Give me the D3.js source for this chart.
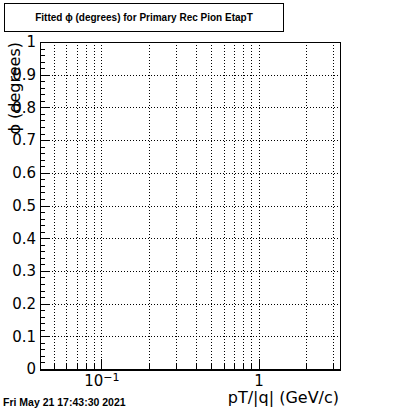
<!DOCTYPE html>
<html>
<head>
<meta charset="utf-8">
<script src="https://cdn.jsdelivr.net/npm/d3@7"></script>
<style>
  body { margin: 0; background: #fff; }
  svg { display: block; }
  line, rect { shape-rendering: crispEdges; }
</style>
</head>
<body>
<svg id="chart"></svg>
<script>
// axis ranges (empty histogram frame)
const xDomain = [0.0407, 3.3];
const yDomain = [0, 1];
const xMajorTicks = [0.1, 1];
const xMajorLabels = [["10", "\u22121"], ["1", ""]];
const xMinorTicks = [0.05, 0.06, 0.07, 0.08, 0.09, 0.2, 0.3, 0.4, 0.5, 0.6, 0.7, 0.8, 0.9, 2, 3];
const yMajorTicks = [0, 0.1, 0.2, 0.3, 0.4, 0.5, 0.6, 0.7, 0.8, 0.9, 1];
const yMinorTicks = d3.range(0, 1.0001, 0.02);
const titleText = "Fitted \u03D5 (degrees) for Primary Rec Pion EtapT";
const xTitle = "pT/|q| (GeV/c)";
const yTitle = "\u03D5 (degrees)";
const dateText = "Fri May 21 17:43:30 2021";

const svg = d3.select('#chart').attr('width', 400).attr('height', 410);
const margin = { top: 42, right: 60, bottom: 41, left: 40 };
const width = 400 - margin.left - margin.right;
const height = 410 - margin.top - margin.bottom;

const g = svg.append('g')
  .attr('transform', `translate(${margin.left},${margin.top})`);

const x = d3.scaleLog().domain(xDomain).range([0, width]);
const y = d3.scaleLinear().domain(yDomain).range([height, 0]);

// grid
g.append('g').selectAll('line')
  .data(xMinorTicks.concat(xMajorTicks))
  .enter().append('line')
  .attr('x1', d => Math.round(x(d)) + 0.5).attr('x2', d => Math.round(x(d)) + 0.5)
  .attr('y1', 0).attr('y2', height)
  .attr('stroke', '#000').attr('stroke-dasharray', '1,2');

g.append('g').selectAll('line')
  .data(yMajorTicks.filter(d => d > 0 && d < 1))
  .enter().append('line')
  .attr('x1', 0).attr('x2', width)
  .attr('y1', d => Math.round(y(d)) + 0.5).attr('y2', d => Math.round(y(d)) + 0.5)
  .attr('stroke', '#000').attr('stroke-dasharray', '1,2');

// frame
g.append('rect')
  .attr('x', 0.5).attr('y', 0.5)
  .attr('width', width).attr('height', height)
  .attr('fill', 'none').attr('stroke', '#000');

// y axis: minor ticks, then major ticks with labels
g.append('g')
  .call(d3.axisLeft(y).tickValues(yMinorTicks).tickSize(-5).tickFormat(''))
  .call(a => a.select('.domain').remove());

g.append('g')
  .attr('class', 'axis axis--y')
  .call(d3.axisLeft(y).tickValues(yMajorTicks).tickSize(-9).tickPadding(4)
    .tickFormat(d => d3.format('')(+d.toFixed(1))))
  .call(a => a.select('.domain').remove())
  .selectAll('text')
  .attr('font-family', 'DejaVu Sans').attr('font-size', 15).attr('fill', '#000');

// x axis
g.append('g')
  .attr('transform', `translate(0,${height})`)
  .call(d3.axisBottom(x).tickValues(xMinorTicks).tickSize(-6).tickFormat(''))
  .call(a => a.select('.domain').remove());

const xa = g.append('g')
  .attr('transform', `translate(0,${height})`)
  .call(d3.axisBottom(x).tickValues(xMajorTicks).tickSize(-10).tickPadding(6).tickFormat(''))
  .call(a => a.select('.domain').remove());

xa.selectAll('.tick text').each(function(d, i) {
  const t = d3.select(this)
    .attr('font-family', 'DejaVu Sans').attr('font-size', 15).attr('fill', '#000');
  const lab = xMajorLabels[i];
  t.append('tspan').text(lab[0]);
  if (lab[1]) t.append('tspan').attr('dy', '-0.45em').attr('font-size', 11).text(lab[1]);
});

g.selectAll('.tick line').attr('stroke', '#000');

// thicker bottom axis line
g.append('line')
  .attr('x1', 0).attr('x2', width + 1)
  .attr('y1', height + 1).attr('y2', height + 1)
  .attr('stroke', '#000').attr('stroke-width', 2);

// axis titles
svg.append('text')
  .attr('x', 339).attr('y', 403)
  .attr('text-anchor', 'end')
  .attr('font-family', 'DejaVu Sans').attr('font-size', 16)
  .text(xTitle);

svg.append('text')
  .attr('transform', 'translate(20,42) rotate(-90)')
  .attr('text-anchor', 'end')
  .attr('font-family', 'DejaVu Sans').attr('font-size', 16)
  .text(yTitle);

// title box
svg.append('rect')
  .attr('x', 4.5).attr('y', 3.5).attr('width', 279).attr('height', 28)
  .attr('fill', '#fff').attr('stroke', '#000');

svg.append('text')
  .attr('x', 144).attr('y', 21)
  .attr('text-anchor', 'middle')
  .attr('font-family', 'Liberation Sans').attr('font-weight', 'bold').attr('font-size', 10)
  .text(titleText);

// date stamp
svg.append('text')
  .attr('x', 3).attr('y', 406)
  .attr('font-family', 'Liberation Sans').attr('font-weight', 'bold').attr('font-size', 10.5)
  .text(dateText);
</script>
</body>
</html>
